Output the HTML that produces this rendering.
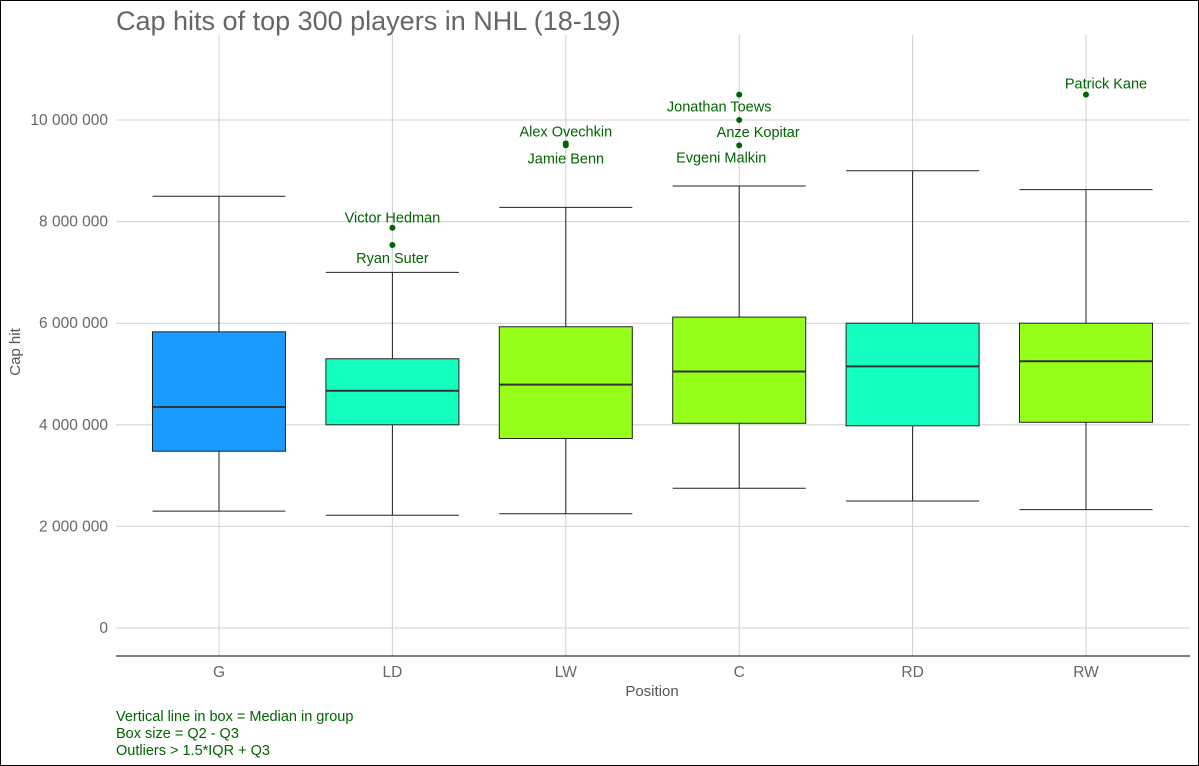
<!DOCTYPE html>
<html><head><meta charset="utf-8"><style>
html,body{margin:0;padding:0;background:#fff}
svg{display:block;font-family:"Liberation Sans",sans-serif}
</style></head><body>
<svg id="chart" width="1199" height="766">
<rect x="0.5" y="0.5" width="1198" height="765" fill="#fff" stroke="#000"/>
<text x="116" y="30" font-size="27" fill="#666">Cap hits of top 300 players in NHL (18-19)</text>
<g id="grid"></g><g id="boxes"></g><g id="outliers"></g>
<line x1="116" y1="656" x2="1190" y2="656" stroke="#000"/>
<text x="652" y="696" font-size="15" fill="#555" text-anchor="middle">Position</text>
<text transform="translate(20,352) rotate(-90)" font-size="15" fill="#555" text-anchor="middle">Cap hit</text>
<g font-size="14.5" fill="#006400">
<text x="116" y="721">Vertical line in box = Median in group</text>
<text x="116" y="738">Box size = Q2 - Q3</text>
<text x="116" y="755">Outliers &gt; 1.5*IQR + Q3</text>
</g>
</svg>
<script>
const categories=["G","LD","LW","C","RD","RW"];
const whiskerLow=[2300000,2220000,2250000,2750000,2500000,2330000];
const q1=[3480000,4000000,3730000,4030000,3980000,4050000];
const medians=[4350000,4670000,4790000,5050000,5150000,5250000];
const q3=[5830000,5300000,5930000,6120000,6000000,6000000];
const whiskerHigh=[8500000,7000000,8280000,8700000,9000000,8630000];
const boxColors=["#1a9bff","#13ffc0","#96ff1a","#96ff1a","#13ffc0","#96ff1a"];
const yTicks=[0,2000000,4000000,6000000,8000000,10000000];
const yTickLabels=["0","2 000 000","4 000 000","6 000 000","8 000 000","10 000 000"];
const outlierCats=["LD","LD","LW","LW","C","C","C","RW"];
const outlierValues=[7880000,7540000,9540000,9500000,10500000,10000000,9500000,10500000];
const outlierNames=["Victor Hedman","Ryan Suter","Alex Ovechkin","Jamie Benn","Jonathan Toews","Anze Kopitar","Evgeni Malkin","Patrick Kane"];
const labelDx=[0,0,0,0,-20,19,-18,20];
const labelDy=[-5,18,-7,18,17,17,17,-6];

const NS="http://www.w3.org/2000/svg";
const yScale=v=>628-v*50.8e-6;
const xScale=c=>219+categories.indexOf(c)*173.4;
function mk(parent,tag,attrs){const e=document.createElementNS(NS,tag);for(const k in attrs)e.setAttribute(k,attrs[k]);document.getElementById(parent).appendChild(e);return e;}

yTicks.forEach((t,i)=>{
  const g=mk("grid","line",{x1:116,x2:1190,y1:yScale(t),y2:yScale(t),stroke:"#d0d0d0"});
  
  
  const l=mk("grid","text",{x:108,y:yScale(t)+5,"text-anchor":"end","font-size":15.5,fill:"#666"});
  l.textContent=yTickLabels[i];
  
  
});
categories.forEach(c=>{
  const g=mk("grid","line",{x1:xScale(c),x2:xScale(c),y1:35,y2:656,stroke:"#d0d0d0"});
  
  
  const l=mk("grid","text",{x:xScale(c),y:677,"text-anchor":"middle","font-size":15.5,fill:"#666"});
  l.textContent=c;
  
  
});
categories.forEach((c,i)=>{
  const x=xScale(c),w=133;
  const wl=mk("boxes","line",{x1:x,x2:x,y1:yScale(whiskerLow[i]),y2:yScale(whiskerHigh[i]),stroke:"#222"});
  
  
  [whiskerLow[i],whiskerHigh[i]].forEach(v=>{
    const cap=mk("boxes","line",{x1:x-w/2,x2:x+w/2,y1:yScale(v),y2:yScale(v),stroke:"#222"});
    
    
  });
  const r=mk("boxes","rect",{x:x-w/2,y:yScale(q3[i]),width:w,height:yScale(q1[i])-yScale(q3[i]),fill:boxColors[i],stroke:"#222"});
  
  
  const m=mk("boxes","line",{x1:x-w/2,x2:x+w/2,y1:yScale(medians[i]),y2:yScale(medians[i]),stroke:"#333","stroke-width":2});
  
  
});
outlierValues.forEach((v,i)=>{
  const x=xScale(outlierCats[i]),y=yScale(v);
  const p=mk("outliers","circle",{cx:x,cy:y,r:3,fill:"#006400"});
  
  
  const t=mk("outliers","text",{x:x+labelDx[i],y:y+labelDy[i],"text-anchor":"middle","font-size":14.5,fill:"#006400"});
  t.textContent=outlierNames[i];
  
  
});
</script>
</body></html>
